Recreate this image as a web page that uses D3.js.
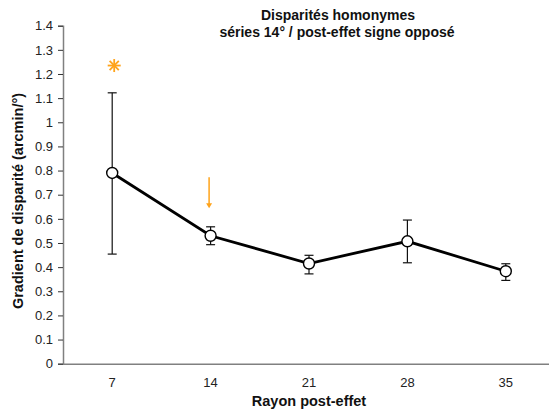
<!DOCTYPE html>
<html>
<head>
<meta charset="utf-8">
<script src="https://cdn.jsdelivr.net/npm/d3@7"></script>
<style>
  body { margin: 0; background: #fff; }
  svg { display: block; font-family: "Liberation Sans", Arial, sans-serif; }
</style>
</head>
<body>
<div id="chart"></div>
<script>
var rayons = ["7", "14", "21", "28", "35"];
var gradient = [0.79, 0.53, 0.415, 0.507, 0.383];
var errHaut = [1.122, 0.567, 0.449, 0.595, 0.414];
var errBas = [0.454, 0.493, 0.372, 0.418, 0.345];
var yTicks = [0, 0.1, 0.2, 0.3, 0.4, 0.5, 0.6, 0.7, 0.8, 0.9, 1, 1.1, 1.2, 1.3, 1.4];
// marques de significativité (catégorie, valeur)
var etoile = { rayon: "7", valeur: 1.235 };
var fleche = { rayon: "14", haut: 0.772, bas: 0.644 };

var width = 549, height = 419;
var marginLeft = 63, marginTop = 25.7, plotBottom = 363.7, plotRight = 555;
var orange = "#ffa31a";

var svg = d3.select("#chart").append("svg")
    .attr("width", width).attr("height", height);

var xScale = d3.scaleBand().domain(rayons).range([marginLeft, plotRight]).padding(0);
var yScale = d3.scaleLinear().domain([0, 1.4]).range([plotBottom, marginTop]);
var cx = function(r) { return xScale(r) + xScale.bandwidth() / 2; };

// axe Y
var axisY = svg.append("g").attr("transform", "translate(" + marginLeft + ",0)")
    .call(d3.axisLeft(yScale).tickValues(yTicks).tickSize(5).tickPadding(5)
        .tickFormat(function(d) { return d3.format("")(+d.toFixed(1)); }));
axisY.select(".domain").attr("stroke", "#808080").attr("stroke-width", 1.5);
axisY.selectAll(".tick line").attr("stroke", "#333");
axisY.selectAll("text").attr("font-size", "13px").attr("fill", "#222")
    .attr("font-family", "Liberation Sans, Arial, sans-serif");

// axe X
var axisX = svg.append("g").attr("transform", "translate(0," + plotBottom + ")")
    .call(d3.axisBottom(xScale).tickSize(0).tickPadding(14).tickSizeOuter(0));
axisX.select(".domain").attr("stroke", "#808080").attr("stroke-width", 1.5);
axisX.selectAll("text").attr("font-size", "13px").attr("fill", "#222")
    .attr("font-family", "Liberation Sans, Arial, sans-serif");

// barres d'erreur
var eb = svg.append("g").attr("stroke", "#111").attr("stroke-width", 1.2);
rayons.forEach(function(r, i) {
    var x = cx(r);
    eb.append("line").attr("x1", x).attr("x2", x)
        .attr("y1", yScale(errHaut[i])).attr("y2", yScale(errBas[i]));
    [errHaut[i], errBas[i]].forEach(function(v) {
        eb.append("line").attr("x1", x - 4.5).attr("x2", x + 4.5)
            .attr("y1", yScale(v)).attr("y2", yScale(v));
    });
});

// courbe
var line = d3.line().x(function(d, i) { return cx(rayons[i]); }).y(function(d) { return yScale(d); });
svg.append("path").datum(gradient)
    .attr("d", line).attr("fill", "none")
    .attr("stroke", "#000").attr("stroke-width", 2.8);

svg.append("g").selectAll("circle").data(gradient).enter()
    .append("circle")
    .attr("cx", function(d, i) { return cx(rayons[i]); })
    .attr("cy", function(d) { return yScale(d); })
    .attr("r", 5.5)
    .attr("fill", "#fff").attr("stroke", "#000").attr("stroke-width", 1.4);

// étoile
var ex = cx(etoile.rayon) + 2, ey = yScale(etoile.valeur);
var st = svg.append("g").attr("stroke", orange).attr("stroke-width", 1.8);
for (var k = 0; k < 4; k++) {
    var a = k * Math.PI / 4;
    st.append("line")
        .attr("x1", ex - 6.5 * Math.cos(a)).attr("y1", ey - 6.5 * Math.sin(a))
        .attr("x2", ex + 6.5 * Math.cos(a)).attr("y2", ey + 6.5 * Math.sin(a));
}

// flèche
var fx = cx(fleche.rayon) - 1.5;
svg.append("line").attr("x1", fx).attr("x2", fx)
    .attr("y1", yScale(fleche.haut)).attr("y2", yScale(fleche.bas) - 4)
    .attr("stroke", orange).attr("stroke-width", 1.5);
svg.append("path")
    .attr("d", "M" + (fx - 3) + "," + (yScale(fleche.bas) - 5) + " L" + (fx + 3) + "," + (yScale(fleche.bas) - 5) + " L" + fx + "," + yScale(fleche.bas) + " Z")
    .attr("fill", orange);

// titres
var title = svg.append("text").attr("text-anchor", "middle")
    .attr("font-weight", "bold").attr("font-size", "14px").attr("fill", "#111");
title.append("tspan").attr("x", 338).attr("y", 20).text("Disparités homonymes");
title.append("tspan").attr("x", 337).attr("y", 37).text("séries 14° / post-effet signe opposé");

svg.append("text")
    .attr("x", 309).attr("y", 406)
    .attr("text-anchor", "middle").attr("font-weight", "bold").attr("font-size", "14.5px")
    .attr("fill", "#111").text("Rayon post-effet");

svg.append("text")
    .attr("transform", "translate(23,201) rotate(-90)")
    .attr("text-anchor", "middle").attr("font-weight", "bold").attr("font-size", "14.5px")
    .attr("fill", "#111").text("Gradient de disparité (arcmin/°)");
</script>
</body>
</html>
